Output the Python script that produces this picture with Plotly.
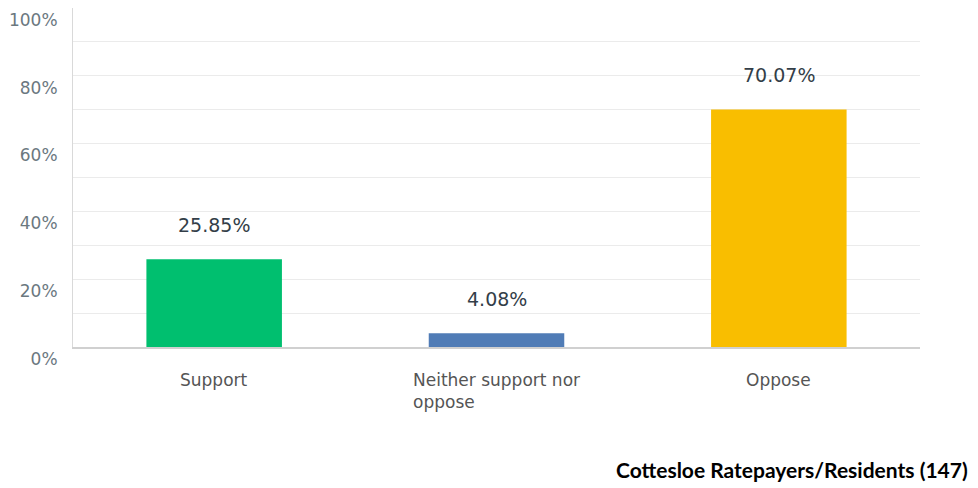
import plotly.graph_objects as go

categories = ["Support", "Neither support nor<br>oppose", "Oppose"]
values = [25.85, 4.08, 70.07]
value_labels = ["25.85%", "4.08%", "70.07%"]
colors = ["#00BF6F", "#507CB6", "#F9BE00"]
y_tickvals = [0, 20, 40, 60, 80, 100]
y_ticktext = ["0%", "20%", "40%", "60%", "80%", "100%"]
footer = "Cottesloe Ratepayers/Residents (147)"

# The page body has an 8px margin; figure coords are offset accordingly.
W, H = 970, 480
L, R, T, B = 65, 58, 0, 141
pw, ph = W - L - R, H - T - B

fig = go.Figure()
fig.add_trace(go.Bar(
    x=categories, y=values, marker=dict(color=colors, line=dict(width=0)),
    hoverinfo="skip", showlegend=False,
))

annotations = []
for c, v, t in zip(categories, values, value_labels):
    annotations.append(dict(
        x=c, y=v, xref="x", yref="y", text=t, showarrow=False,
        yshift=34, font=dict(family="DejaVu Sans", size=19, color="#333E48"),
    ))

for c in categories:
    annotations.append(dict(
        x=c, y=0, xref="x", yref="y", text=c, showarrow=False,
        align="left", yanchor="top", yshift=-21,
        font=dict(family="DejaVu Sans", size=17, color="#555555"),
    ))

fx, fy = 962, 462
annotations.append(dict(
    x=(fx - L) / pw, y=-(fy - (T + ph)) / ph, xref="paper", yref="paper",
    text="<b>" + footer + "</b>",
    showarrow=False, xanchor="right", yanchor="middle",
    font=dict(family="Lato", size=21, color="#000000"),
))

fig.update_layout(
    width=W, height=H,
    margin=dict(l=L, r=R, t=T, b=B),
    paper_bgcolor="white", plot_bgcolor="white",
    bargap=0.52,
    annotations=annotations,
    xaxis=dict(showticklabels=False, showgrid=False, showline=True,
               linecolor="#D0D0D0", linewidth=1.5, ticks="", fixedrange=True),
    yaxis=dict(range=[0, 100], tickvals=y_tickvals, ticktext=y_ticktext,
               showgrid=True, gridcolor="#EBEBEB", gridwidth=1,
               minor=dict(dtick=10, showgrid=True, gridcolor="#EBEBEB", gridwidth=1),
               showline=True, linecolor="#D9D9D9", linewidth=1,
               zeroline=False, ticks="", ticklabelposition="outside bottom",
               ticklabelstandoff=11,
               tickfont=dict(family="DejaVu Sans", size=17, color="#6B787F")),
)

fig.write_html("out.html")
